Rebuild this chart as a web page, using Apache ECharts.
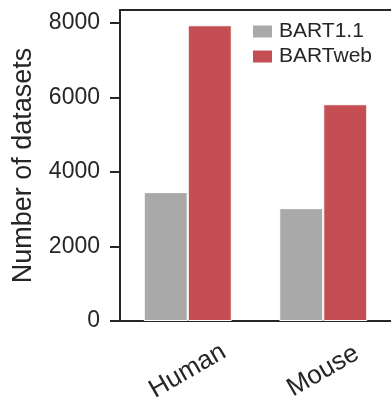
<!DOCTYPE html>
<html>
<head>
<meta charset="utf-8">
<script src="https://cdn.jsdelivr.net/npm/echarts@6/dist/echarts.min.js"></script>
<style>html,body{margin:0;padding:0;background:#fff}#c{width:391px;height:410px}</style>
</head>
<body>
<div id="c"></div>
<script>
const categories = ["Human", "Mouse"];
const bart11 = [3460, 3030];
const bartweb = [7940, 5820];
const yTicks = [0, 2000, 4000, 6000, 8000];

const font = "'Liberation Sans', Arial, sans-serif";
const ink = "#262626";
const chart = echarts.init(document.getElementById('c'), null, {renderer: 'canvas'});
chart.setOption({
  animation: false,
  backgroundColor: '#ffffff',
  textStyle: {fontFamily: font, color: ink},
  grid: {left: 120, right: -1, top: 10, bottom: 89, containLabel: false},
  legend: {
    data: ['BART1.1', 'BARTweb'],
    orient: 'vertical',
    left: 246, top: 16,
    itemWidth: 21, itemHeight: 14, itemGap: 4,
    icon: 'rect',
    textStyle: {fontFamily: font, fontSize: 21, color: ink, padding: [0, 0, 0, 1]}
  },
  xAxis: [{
    type: 'category',
    data: categories,
    axisLine: {lineStyle: {color: ink, width: 2}},
    axisTick: {alignWithLabel: true, length: 10, lineStyle: {color: ink, width: 2}},
    axisLabel: {rotate: 30, align: 'center', verticalAlign: 'middle', margin: 50, fontFamily: font, fontSize: 26, color: ink}
  }, {
    type: 'category',
    data: categories,
    position: 'top',
    axisLine: {lineStyle: {color: ink, width: 2}},
    axisTick: {show: false},
    axisLabel: {show: false}
  }],
  yAxis: {
    type: 'value',
    min: 0, max: 8350, interval: 2000,
    name: 'Number of datasets',
    nameLocation: 'middle',
    nameGap: 83,
    nameTextStyle: {fontFamily: font, fontSize: 27, color: ink},
    splitLine: {show: false},
    axisLine: {show: true, lineStyle: {color: ink, width: 2}},
    axisTick: {show: true, length: 10, lineStyle: {color: ink, width: 2}, customValues: yTicks},
    axisLabel: {margin: 20, fontFamily: font, fontSize: 23, color: ink, customValues: yTicks, formatter: v => String(v)}
  },
  series: [{
    name: 'BART1.1', type: 'bar', data: bart11, barWidth: 44, barGap: '0%',
    itemStyle: {color: '#a9a9a9', borderColor: '#ffffff', borderWidth: 1}
  }, {
    name: 'BARTweb', type: 'bar', data: bartweb, barWidth: 44,
    itemStyle: {color: '#c44e52', borderColor: '#ffffff', borderWidth: 1}
  }]
});
</script>
</body>
</html>
